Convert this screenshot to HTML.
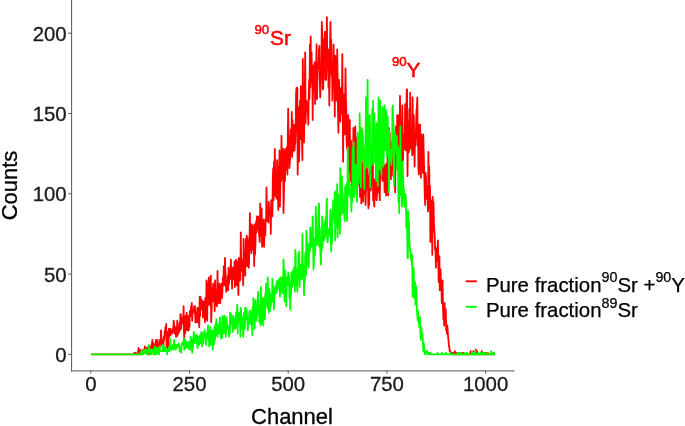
<!DOCTYPE html>
<html><head><meta charset="utf-8"><title>Spectrum</title>
<style>
html,body{margin:0;padding:0;background:#fff;}
svg{display:block;}
text{font-family:"Liberation Sans",Arial,sans-serif;}
.tk{font-size:20.4px;fill:#1a1a1a;stroke:#1a1a1a;stroke-width:0.3px;}
.ti{font-size:22px;fill:#000;stroke:#000;stroke-width:0.3px;}
.lg{font-size:20.4px;fill:#000;stroke:#000;stroke-width:0.25px;}
.sup{font-size:14.3px;}
.an{font-size:20.8px;fill:#f00;stroke:#f00;stroke-width:0.5px;}
.an .sup{font-size:13.3px;}
</style></head><body>
<svg width="685" height="426" viewBox="0 0 685 426">
<rect width="685" height="426" fill="#fff"/>
<polyline fill="none" stroke="#ff0000" stroke-width="1.8" stroke-linejoin="round" points="91.1,354.4 91.5,354.4 91.9,354.4 92.3,354.4 92.7,354.4 93.1,354.4 93.5,354.4 93.9,354.4 94.3,354.4 94.7,354.4 95.1,354.4 95.5,354.4 95.9,354.4 96.3,354.4 96.7,354.4 97.1,354.4 97.5,354.4 97.9,354.4 98.3,354.4 98.6,354.4 99.0,354.4 99.4,354.4 99.8,354.4 100.2,354.4 100.6,354.4 101.0,354.4 101.4,354.4 101.8,354.4 102.2,354.4 102.6,354.4 103.0,354.4 103.4,354.4 103.8,354.4 104.2,354.4 104.6,354.4 105.0,354.4 105.4,354.4 105.8,354.4 106.2,354.4 106.5,354.4 106.9,354.4 107.3,354.4 107.7,354.4 108.1,354.4 108.5,354.4 108.9,354.4 109.3,354.4 109.7,354.4 110.1,354.4 110.5,354.4 110.9,354.4 111.3,354.4 111.7,354.4 112.1,354.4 112.5,354.4 112.9,354.4 113.3,354.4 113.7,354.4 114.0,354.4 114.4,354.4 114.8,354.4 115.2,354.4 115.6,354.4 116.0,354.4 116.4,354.4 116.8,354.4 117.2,354.4 117.6,354.4 118.0,354.4 118.4,354.4 118.8,354.4 119.2,354.4 119.6,354.4 120.0,354.4 120.4,354.4 120.8,354.4 121.2,354.4 121.6,354.4 121.9,354.4 122.3,354.4 122.7,354.4 123.1,354.4 123.5,354.4 123.9,354.4 124.3,354.4 124.7,354.4 125.1,354.4 125.5,354.4 125.9,354.4 126.3,354.4 126.7,354.4 127.1,354.4 127.5,354.4 127.9,354.4 128.3,354.4 128.7,354.4 129.1,354.4 129.5,354.4 129.8,354.4 130.2,354.4 130.6,354.4 131.0,354.4 131.4,354.4 131.8,354.4 132.2,354.4 132.6,354.4 133.0,354.4 133.4,354.4 133.8,354.4 134.2,352.8 134.6,354.4 135.0,354.4 135.4,352.8 135.8,352.8 136.2,354.4 136.6,354.4 137.0,354.4 137.3,354.4 137.7,354.4 138.1,352.8 138.5,348.0 138.9,354.4 139.3,352.8 139.7,354.4 140.1,352.8 140.5,349.6 140.9,352.8 141.3,354.4 141.7,352.8 142.1,352.8 142.5,352.8 142.9,351.2 143.3,349.6 143.7,349.6 144.1,352.8 144.5,351.2 144.9,346.4 145.2,351.2 145.6,351.2 146.0,349.6 146.4,349.6 146.8,348.0 147.2,348.0 147.6,349.6 148.0,354.4 148.4,346.4 148.8,352.8 149.2,348.0 149.6,346.4 150.0,348.0 150.4,346.4 150.8,346.4 151.2,348.0 151.6,344.8 152.0,343.2 152.4,339.9 152.7,351.2 153.1,344.8 153.5,343.2 153.9,346.4 154.3,344.8 154.7,354.4 155.1,348.0 155.5,351.2 155.9,339.9 156.3,346.4 156.7,346.4 157.1,346.4 157.5,339.9 157.9,344.8 158.3,348.0 158.7,344.8 159.1,348.0 159.5,348.0 159.9,339.9 160.3,344.8 160.6,343.2 161.0,330.3 161.4,338.3 161.8,341.6 162.2,343.2 162.6,348.0 163.0,339.9 163.4,346.4 163.8,336.7 164.2,339.9 164.6,331.9 165.0,335.1 165.4,327.1 165.8,335.1 166.2,323.9 166.6,346.4 167.0,336.7 167.4,348.0 167.8,331.9 168.2,346.4 168.5,343.2 168.9,328.7 169.3,336.7 169.7,333.5 170.1,328.7 170.5,335.1 170.9,330.3 171.3,333.5 171.7,330.3 172.1,333.5 172.5,328.7 172.9,331.9 173.3,330.3 173.7,320.7 174.1,323.9 174.5,333.5 174.9,328.7 175.3,327.1 175.7,327.1 176.0,336.7 176.4,335.1 176.8,336.7 177.2,320.7 177.6,335.1 178.0,331.9 178.4,333.5 178.8,331.9 179.2,325.5 179.6,322.3 180.0,330.3 180.4,314.2 180.8,314.2 181.2,328.7 181.6,317.5 182.0,319.1 182.4,319.1 182.8,320.7 183.2,323.9 183.6,306.2 183.9,330.3 184.3,338.3 184.7,315.9 185.1,333.5 185.5,328.7 185.9,319.1 186.3,317.5 186.7,312.6 187.1,330.3 187.5,323.9 187.9,330.3 188.3,315.9 188.7,330.3 189.1,323.9 189.5,327.1 189.9,311.0 190.3,314.2 190.7,315.9 191.1,306.2 191.4,309.4 191.8,303.0 192.2,320.7 192.6,311.0 193.0,312.6 193.4,309.4 193.8,311.0 194.2,306.2 194.6,312.6 195.0,306.2 195.4,322.3 195.8,320.7 196.2,322.3 196.6,312.6 197.0,314.2 197.4,307.8 197.8,322.3 198.2,309.4 198.6,307.8 199.0,319.1 199.3,327.1 199.7,296.6 200.1,315.9 200.5,296.6 200.9,309.4 201.3,306.2 201.7,299.8 202.1,301.4 202.5,301.4 202.9,317.5 203.3,312.6 203.7,303.0 204.1,301.4 204.5,304.6 204.9,322.3 205.3,298.2 205.7,319.1 206.1,312.6 206.5,280.5 206.9,298.2 207.2,320.7 207.6,283.7 208.0,293.4 208.4,304.6 208.8,277.3 209.2,299.8 209.6,293.4 210.0,303.0 210.4,306.2 210.8,275.7 211.2,322.3 211.6,311.0 212.0,293.4 212.4,296.6 212.8,288.6 213.2,283.7 213.6,301.4 214.0,298.2 214.4,288.6 214.7,311.0 215.1,280.5 215.5,298.2 215.9,290.2 216.3,296.6 216.7,306.2 217.1,304.6 217.5,270.9 217.9,295.0 218.3,295.0 218.7,303.0 219.1,285.3 219.5,283.7 219.9,293.4 220.3,303.0 220.7,293.4 221.1,298.2 221.5,283.7 221.9,298.2 222.3,293.4 222.6,285.3 223.0,277.3 223.4,282.1 223.8,266.1 224.2,285.3 224.6,282.1 225.0,258.0 225.4,270.9 225.8,280.5 226.2,291.8 226.6,286.9 227.0,286.9 227.4,285.3 227.8,275.7 228.2,290.2 228.6,267.7 229.0,283.7 229.4,274.1 229.8,278.9 230.1,269.3 230.5,277.3 230.9,259.6 231.3,278.9 231.7,275.7 232.1,288.6 232.5,267.7 232.9,267.7 233.3,278.9 233.7,278.9 234.1,278.9 234.5,261.3 234.9,286.9 235.3,267.7 235.7,269.3 236.1,259.6 236.5,285.3 236.9,261.3 237.3,277.3 237.7,274.1 238.0,280.5 238.4,295.0 238.8,258.0 239.2,264.5 239.6,264.5 240.0,280.5 240.4,278.9 240.8,232.3 241.2,270.9 241.6,259.6 242.0,264.5 242.4,270.9 242.8,270.9 243.2,285.3 243.6,238.8 244.0,266.1 244.4,251.6 244.8,253.2 245.2,275.7 245.6,256.4 245.9,238.8 246.3,262.9 246.7,235.6 247.1,266.1 247.5,237.2 247.9,246.8 248.3,242.0 248.7,267.7 249.1,259.6 249.5,245.2 249.9,213.1 250.3,242.0 250.7,250.0 251.1,240.4 251.5,253.2 251.9,224.3 252.3,242.0 252.7,225.9 253.1,227.5 253.4,250.0 253.8,242.0 254.2,266.1 254.6,224.3 255.0,254.8 255.4,245.2 255.8,227.5 256.2,221.1 256.6,232.3 257.0,216.3 257.4,219.5 257.8,229.1 258.2,216.3 258.6,224.3 259.0,233.9 259.4,237.2 259.8,242.0 260.2,203.4 260.6,235.6 261.0,214.7 261.3,221.1 261.7,208.3 262.1,246.8 262.5,242.0 262.9,225.9 263.3,229.1 263.7,219.5 264.1,246.8 264.5,224.3 264.9,229.1 265.3,235.6 265.7,219.5 266.1,221.1 266.5,187.4 266.9,213.1 267.3,214.7 267.7,221.1 268.1,217.9 268.5,222.7 268.8,201.8 269.2,209.9 269.6,213.1 270.0,213.1 270.4,211.5 270.8,233.9 271.2,200.2 271.6,201.8 272.0,200.2 272.4,216.3 272.8,179.3 273.2,168.1 273.6,200.2 274.0,161.7 274.4,195.4 274.8,148.8 275.2,176.1 275.6,192.2 276.0,197.0 276.4,190.6 276.7,198.6 277.1,160.1 277.5,174.5 277.9,190.6 278.3,209.9 278.7,166.5 279.1,174.5 279.5,150.4 279.9,206.6 280.3,187.4 280.7,169.7 281.1,181.0 281.5,136.0 281.9,179.3 282.3,179.3 282.7,176.1 283.1,148.8 283.5,213.1 283.9,195.4 284.3,172.9 284.6,150.4 285.0,181.0 285.4,148.8 285.8,152.0 286.2,169.7 286.6,156.9 287.0,147.2 287.4,174.5 287.8,136.0 288.2,108.7 288.6,160.1 289.0,136.0 289.4,168.1 289.8,163.3 290.2,155.3 290.6,129.6 291.0,136.0 291.4,148.8 291.8,111.9 292.1,156.9 292.5,119.9 292.9,152.0 293.3,148.8 293.7,129.6 294.1,124.7 294.5,150.4 294.9,144.0 295.3,144.0 295.7,129.6 296.1,92.6 296.5,87.8 296.9,115.1 297.3,87.8 297.7,174.5 298.1,132.8 298.5,107.1 298.9,161.7 299.3,152.0 299.7,123.1 300.0,100.7 300.4,139.2 300.8,86.2 301.2,108.7 301.6,108.7 302.0,140.8 302.4,160.1 302.8,58.9 303.2,105.5 303.6,107.1 304.0,142.4 304.4,118.3 304.8,91.0 305.2,52.5 305.6,123.1 306.0,105.5 306.4,100.7 306.8,111.9 307.2,105.5 307.6,102.3 307.9,111.9 308.3,124.7 308.7,97.4 309.1,79.8 309.5,99.0 309.9,44.4 310.3,87.8 310.7,36.4 311.1,83.0 311.5,52.5 311.9,71.7 312.3,68.5 312.7,119.9 313.1,65.3 313.5,78.2 313.9,91.0 314.3,81.4 314.7,62.1 315.1,103.9 315.4,89.4 315.8,76.6 316.2,63.7 316.6,44.4 317.0,99.0 317.4,81.4 317.8,63.7 318.2,66.9 318.6,68.5 319.0,49.3 319.4,46.0 319.8,78.2 320.2,97.4 320.6,89.4 321.0,66.9 321.4,75.0 321.8,22.0 322.2,33.2 322.6,78.2 323.0,89.4 323.3,86.2 323.7,39.6 324.1,60.5 324.5,41.2 324.9,31.6 325.3,79.8 325.7,50.9 326.1,79.8 326.5,66.9 326.9,17.1 327.3,66.9 327.7,63.7 328.1,49.3 328.5,87.8 328.9,55.7 329.3,105.5 329.7,76.6 330.1,38.0 330.5,22.0 330.8,54.1 331.2,39.6 331.6,75.0 332.0,65.3 332.4,100.7 332.8,84.6 333.2,66.9 333.6,44.4 334.0,71.7 334.4,73.3 334.8,116.7 335.2,55.7 335.6,66.9 336.0,79.8 336.4,100.7 336.8,99.0 337.2,49.3 337.6,75.0 338.0,108.7 338.4,132.8 338.7,83.0 339.1,79.8 339.5,95.8 339.9,94.2 340.3,121.5 340.7,107.1 341.1,87.8 341.5,100.7 341.9,113.5 342.3,54.1 342.7,99.0 343.1,161.7 343.5,94.2 343.9,113.5 344.3,134.4 344.7,134.4 345.1,102.3 345.5,68.5 345.9,97.4 346.3,110.3 346.6,139.2 347.0,148.8 347.4,119.9 347.8,139.2 348.2,115.1 348.6,155.3 349.0,160.1 349.4,171.3 349.8,119.9 350.2,181.0 350.6,142.4 351.0,140.8 351.4,150.4 351.8,185.8 352.2,169.7 352.6,193.8 353.0,168.1 353.4,128.0 353.8,195.4 354.1,129.6 354.5,193.8 354.9,160.1 355.3,126.3 355.7,163.3 356.1,142.4 356.5,137.6 356.9,152.0 357.3,169.7 357.7,185.8 358.1,152.0 358.5,181.0 358.9,182.6 359.3,163.3 359.7,182.6 360.1,197.0 360.5,174.5 360.9,160.1 361.3,203.4 361.7,156.9 362.0,181.0 362.4,163.3 362.8,179.3 363.2,201.8 363.6,182.6 364.0,193.8 364.4,185.8 364.8,192.2 365.2,169.7 365.6,205.0 366.0,189.0 366.4,184.2 366.8,160.1 367.2,169.7 367.6,187.4 368.0,187.4 368.4,208.3 368.8,176.1 369.2,205.0 369.5,168.1 369.9,190.6 370.3,181.0 370.7,190.6 371.1,185.8 371.5,164.9 371.9,172.9 372.3,176.1 372.7,140.8 373.1,200.2 373.5,185.8 373.9,200.2 374.3,206.6 374.7,179.3 375.1,195.4 375.5,198.6 375.9,197.0 376.3,152.0 376.7,200.2 377.1,189.0 377.4,189.0 377.8,168.1 378.2,192.2 378.6,182.6 379.0,156.9 379.4,190.6 379.8,200.2 380.2,164.9 380.6,152.0 381.0,164.9 381.4,153.6 381.8,155.3 382.2,177.7 382.6,181.0 383.0,164.9 383.4,169.7 383.8,164.9 384.2,171.3 384.6,192.2 385.0,192.2 385.3,177.7 385.7,164.9 386.1,195.4 386.5,163.3 386.9,172.9 387.3,185.8 387.7,145.6 388.1,195.4 388.5,155.3 388.9,128.0 389.3,158.5 389.7,132.8 390.1,161.7 390.5,160.1 390.9,179.3 391.3,166.5 391.7,142.4 392.1,169.7 392.5,140.8 392.8,153.6 393.2,176.1 393.6,136.0 394.0,150.4 394.4,172.9 394.8,177.7 395.2,192.2 395.6,148.8 396.0,126.3 396.4,126.3 396.8,161.7 397.2,115.1 397.6,169.7 398.0,169.7 398.4,168.1 398.8,115.1 399.2,129.6 399.6,158.5 400.0,95.8 400.4,142.4 400.7,148.8 401.1,184.2 401.5,140.8 401.9,136.0 402.3,105.5 402.7,134.4 403.1,160.1 403.5,134.4 403.9,148.8 404.3,137.6 404.7,148.8 405.1,105.5 405.5,103.9 405.9,150.4 406.3,134.4 406.7,89.4 407.1,89.4 407.5,176.1 407.9,142.4 408.2,121.5 408.6,124.7 409.0,152.0 409.4,108.7 409.8,148.8 410.2,92.6 410.6,131.2 411.0,142.4 411.4,148.8 411.8,142.4 412.2,155.3 412.6,97.4 413.0,140.8 413.4,153.6 413.8,115.1 414.2,140.8 414.6,166.5 415.0,134.4 415.4,145.6 415.8,137.6 416.1,126.3 416.5,110.3 416.9,107.1 417.3,97.4 417.7,145.6 418.1,140.8 418.5,169.7 418.9,174.5 419.3,124.7 419.7,166.5 420.1,124.7 420.5,148.8 420.9,177.7 421.3,134.4 421.7,144.0 422.1,168.1 422.5,144.0 422.9,172.9 423.3,134.4 423.7,153.6 424.0,163.3 424.4,179.3 424.8,197.0 425.2,205.0 425.6,172.9 426.0,177.7 426.4,193.8 426.8,198.6 427.2,185.8 427.6,192.2 428.0,211.5 428.4,152.0 428.8,208.3 429.2,166.5 429.6,201.8 430.0,185.8 430.4,242.0 430.8,235.6 431.2,205.0 431.5,214.7 431.9,200.2 432.3,254.8 432.7,197.0 433.1,214.7 433.5,201.8 433.9,222.7 434.3,230.7 434.7,233.9 435.1,250.0 435.5,246.8 435.9,267.7 436.3,248.4 436.7,261.3 437.1,248.4 437.5,259.6 437.9,240.4 438.3,259.6 438.7,282.1 439.1,282.1 439.4,256.4 439.8,290.2 440.2,270.9 440.6,269.3 441.0,285.3 441.4,282.1 441.8,303.0 442.2,296.6 442.6,280.5 443.0,307.8 443.4,319.1 443.8,314.2 444.2,325.5 444.6,303.0 445.0,315.9 445.4,319.1 445.8,309.4 446.2,330.3 446.6,325.5 446.9,333.5 447.3,325.5 447.7,330.3 448.1,336.7 448.5,339.9 448.9,346.4 449.3,346.4 449.7,351.2 450.1,351.2 450.5,351.2 450.9,354.4 451.3,352.8 451.7,352.8 452.1,354.4 452.5,354.4 452.9,354.4 453.3,352.8 453.7,354.4 454.1,354.4 454.5,352.8 454.8,351.2 455.2,354.4 455.6,354.4 456.0,354.4 456.4,354.4 456.8,352.8 457.2,354.4 457.6,354.4 458.0,354.4 458.4,354.4 458.8,354.4 459.2,352.8 459.6,352.8 460.0,354.4 460.4,354.4 460.8,354.4 461.2,354.4 461.6,354.4 462.0,354.4 462.4,352.8 462.7,352.8 463.1,352.8 463.5,354.4 463.9,354.4 464.3,354.4 464.7,354.4 465.1,354.4 465.5,354.4 465.9,354.4 466.3,354.4 466.7,354.4 467.1,352.8 467.5,354.4 467.9,354.4 468.3,354.4 468.7,354.4 469.1,354.4 469.5,354.4 469.9,354.4 470.2,354.4 470.6,351.2 471.0,354.4 471.4,354.4 471.8,354.4 472.2,354.4 472.6,354.4 473.0,354.4 473.4,351.2 473.8,354.4 474.2,354.4 474.6,354.4 475.0,354.4 475.4,354.4 475.8,349.6 476.2,354.4 476.6,354.4 477.0,351.2 477.4,354.4 477.8,354.4 478.1,354.4 478.5,354.4 478.9,354.4 479.3,354.4 479.7,354.4 480.1,354.4 480.5,354.4 480.9,354.4 481.3,352.8 481.7,351.2 482.1,354.4 482.5,354.4 482.9,354.4 483.3,354.4 483.7,354.4 484.1,352.8 484.5,354.4 484.9,354.4 485.3,352.8 485.6,354.4 486.0,354.4 486.4,354.4 486.8,352.8 487.2,354.4 487.6,354.4 488.0,352.8 488.4,354.4 488.8,354.4 489.2,354.4 489.6,354.4 490.0,354.4 490.4,354.4 490.8,354.4 491.2,354.4 491.6,354.4 492.0,354.4 492.4,354.4 492.8,354.4 493.2,354.4 493.5,352.8 493.9,354.4 494.3,354.4 494.7,354.4 495.1,354.4"/>
<polyline fill="none" stroke="#00ff00" stroke-width="1.8" stroke-linejoin="round" points="91.1,354.4 91.5,354.4 91.9,354.4 92.3,354.4 92.7,354.4 93.1,354.4 93.5,354.4 93.9,354.4 94.3,354.4 94.7,354.4 95.1,354.4 95.5,354.4 95.9,354.4 96.3,354.4 96.7,354.4 97.1,354.4 97.5,354.4 97.9,354.4 98.3,354.4 98.6,354.4 99.0,354.4 99.4,354.4 99.8,354.4 100.2,354.4 100.6,354.4 101.0,354.4 101.4,354.4 101.8,354.4 102.2,354.4 102.6,354.4 103.0,354.4 103.4,354.4 103.8,354.4 104.2,354.4 104.6,354.4 105.0,354.4 105.4,354.4 105.8,354.4 106.2,354.4 106.5,354.4 106.9,354.4 107.3,354.4 107.7,354.4 108.1,354.4 108.5,354.4 108.9,354.4 109.3,354.4 109.7,354.4 110.1,354.4 110.5,354.4 110.9,354.4 111.3,354.4 111.7,354.4 112.1,354.4 112.5,354.4 112.9,354.4 113.3,354.4 113.7,354.4 114.0,354.4 114.4,354.4 114.8,354.4 115.2,354.4 115.6,354.4 116.0,354.4 116.4,354.4 116.8,354.4 117.2,354.4 117.6,354.4 118.0,354.4 118.4,354.4 118.8,354.4 119.2,354.4 119.6,354.4 120.0,354.4 120.4,354.4 120.8,354.4 121.2,354.4 121.6,354.4 121.9,354.4 122.3,354.4 122.7,354.4 123.1,354.4 123.5,354.4 123.9,354.4 124.3,354.4 124.7,354.4 125.1,354.4 125.5,354.4 125.9,354.4 126.3,354.4 126.7,354.4 127.1,354.4 127.5,354.4 127.9,354.4 128.3,354.4 128.7,354.4 129.1,354.4 129.5,354.4 129.8,354.4 130.2,354.4 130.6,354.4 131.0,354.4 131.4,354.4 131.8,354.4 132.2,354.4 132.6,354.4 133.0,354.4 133.4,354.4 133.8,354.4 134.2,354.4 134.6,354.4 135.0,354.4 135.4,354.4 135.8,354.4 136.2,354.4 136.6,354.4 137.0,354.4 137.3,354.4 137.7,354.4 138.1,354.4 138.5,354.4 138.9,354.4 139.3,354.4 139.7,354.4 140.1,354.4 140.5,352.8 140.9,354.4 141.3,351.2 141.7,352.8 142.1,354.4 142.5,351.2 142.9,354.4 143.3,354.4 143.7,352.8 144.1,349.6 144.5,351.2 144.9,352.8 145.2,352.8 145.6,352.8 146.0,349.6 146.4,352.8 146.8,354.4 147.2,354.4 147.6,349.6 148.0,351.2 148.4,351.2 148.8,344.8 149.2,349.6 149.6,354.4 150.0,354.4 150.4,349.6 150.8,351.2 151.2,354.4 151.6,349.6 152.0,351.2 152.4,352.8 152.7,349.6 153.1,349.6 153.5,354.4 153.9,351.2 154.3,354.4 154.7,348.0 155.1,346.4 155.5,348.0 155.9,348.0 156.3,348.0 156.7,354.4 157.1,348.0 157.5,351.2 157.9,349.6 158.3,352.8 158.7,348.0 159.1,354.4 159.5,346.4 159.9,349.6 160.3,351.2 160.6,351.2 161.0,351.2 161.4,351.2 161.8,351.2 162.2,351.2 162.6,351.2 163.0,344.8 163.4,348.0 163.8,351.2 164.2,351.2 164.6,351.2 165.0,351.2 165.4,346.4 165.8,351.2 166.2,349.6 166.6,351.2 167.0,354.4 167.4,351.2 167.8,351.2 168.2,349.6 168.5,351.2 168.9,348.0 169.3,346.4 169.7,351.2 170.1,338.3 170.5,349.6 170.9,348.0 171.3,348.0 171.7,349.6 172.1,346.4 172.5,346.4 172.9,344.8 173.3,344.8 173.7,349.6 174.1,339.9 174.5,348.0 174.9,348.0 175.3,348.0 175.7,349.6 176.0,344.8 176.4,346.4 176.8,348.0 177.2,344.8 177.6,346.4 178.0,346.4 178.4,346.4 178.8,343.2 179.2,344.8 179.6,351.2 180.0,349.6 180.4,348.0 180.8,348.0 181.2,352.8 181.6,346.4 182.0,343.2 182.4,344.8 182.8,344.8 183.2,341.6 183.6,341.6 183.9,338.3 184.3,349.6 184.7,344.8 185.1,339.9 185.5,348.0 185.9,348.0 186.3,343.2 186.7,341.6 187.1,343.2 187.5,346.4 187.9,348.0 188.3,344.8 188.7,348.0 189.1,341.6 189.5,349.6 189.9,341.6 190.3,348.0 190.7,336.7 191.1,348.0 191.4,349.6 191.8,348.0 192.2,352.8 192.6,338.3 193.0,348.0 193.4,339.9 193.8,331.9 194.2,343.2 194.6,336.7 195.0,339.9 195.4,335.1 195.8,336.7 196.2,335.1 196.6,343.2 197.0,335.1 197.4,348.0 197.8,346.4 198.2,336.7 198.6,341.6 199.0,343.2 199.3,344.8 199.7,339.9 200.1,335.1 200.5,338.3 200.9,343.2 201.3,331.9 201.7,339.9 202.1,346.4 202.5,333.5 202.9,339.9 203.3,343.2 203.7,336.7 204.1,331.9 204.5,330.3 204.9,335.1 205.3,338.3 205.7,335.1 206.1,344.8 206.5,339.9 206.9,333.5 207.2,335.1 207.6,330.3 208.0,325.5 208.4,338.3 208.8,335.1 209.2,346.4 209.6,330.3 210.0,336.7 210.4,327.1 210.8,344.8 211.2,336.7 211.6,336.7 212.0,333.5 212.4,330.3 212.8,349.6 213.2,336.7 213.6,339.9 214.0,344.8 214.4,327.1 214.7,328.7 215.1,339.9 215.5,323.9 215.9,331.9 216.3,319.1 216.7,335.1 217.1,325.5 217.5,336.7 217.9,327.1 218.3,328.7 218.7,323.9 219.1,331.9 219.5,333.5 219.9,317.5 220.3,322.3 220.7,338.3 221.1,330.3 221.5,333.5 221.9,338.3 222.3,328.7 222.6,315.9 223.0,327.1 223.4,330.3 223.8,333.5 224.2,323.9 224.6,315.9 225.0,328.7 225.4,330.3 225.8,336.7 226.2,328.7 226.6,317.5 227.0,323.9 227.4,325.5 227.8,325.5 228.2,330.3 228.6,327.1 229.0,336.7 229.4,330.3 229.8,333.5 230.1,312.6 230.5,317.5 230.9,323.9 231.3,314.2 231.7,323.9 232.1,317.5 232.5,325.5 232.9,331.9 233.3,315.9 233.7,320.7 234.1,328.7 234.5,322.3 234.9,319.1 235.3,328.7 235.7,319.1 236.1,312.6 236.5,325.5 236.9,311.0 237.3,304.6 237.7,333.5 238.0,314.2 238.4,312.6 238.8,317.5 239.2,322.3 239.6,312.6 240.0,319.1 240.4,336.7 240.8,307.8 241.2,312.6 241.6,322.3 242.0,328.7 242.4,320.7 242.8,317.5 243.2,336.7 243.6,328.7 244.0,312.6 244.4,323.9 244.8,328.7 245.2,307.8 245.6,319.1 245.9,307.8 246.3,314.2 246.7,309.4 247.1,317.5 247.5,323.9 247.9,330.3 248.3,320.7 248.7,323.9 249.1,314.2 249.5,311.0 249.9,317.5 250.3,323.9 250.7,311.0 251.1,323.9 251.5,314.2 251.9,320.7 252.3,335.1 252.7,306.2 253.1,319.1 253.4,298.2 253.8,311.0 254.2,315.9 254.6,328.7 255.0,314.2 255.4,299.8 255.8,306.2 256.2,304.6 256.6,320.7 257.0,311.0 257.4,306.2 257.8,296.6 258.2,291.8 258.6,314.2 259.0,304.6 259.4,322.3 259.8,309.4 260.2,307.8 260.6,325.5 261.0,286.9 261.3,323.9 261.7,306.2 262.1,298.2 262.5,319.1 262.9,299.8 263.3,325.5 263.7,298.2 264.1,306.2 264.5,304.6 264.9,319.1 265.3,293.4 265.7,298.2 266.1,283.7 266.5,301.4 266.9,303.0 267.3,307.8 267.7,277.3 268.1,296.6 268.5,296.6 268.8,312.6 269.2,288.6 269.6,291.8 270.0,311.0 270.4,301.4 270.8,306.2 271.2,299.8 271.6,293.4 272.0,301.4 272.4,278.9 272.8,291.8 273.2,301.4 273.6,303.0 274.0,309.4 274.4,293.4 274.8,286.9 275.2,291.8 275.6,286.9 276.0,293.4 276.4,283.7 276.7,291.8 277.1,280.5 277.5,282.1 277.9,285.3 278.3,288.6 278.7,285.3 279.1,278.9 279.5,282.1 279.9,296.6 280.3,288.6 280.7,277.3 281.1,278.9 281.5,290.2 281.9,277.3 282.3,293.4 282.7,293.4 283.1,293.4 283.5,259.6 283.9,267.7 284.3,293.4 284.6,301.4 285.0,277.3 285.4,270.9 285.8,291.8 286.2,306.2 286.6,285.3 287.0,277.3 287.4,285.3 287.8,283.7 288.2,272.5 288.6,283.7 289.0,275.7 289.4,298.2 289.8,290.2 290.2,309.4 290.6,282.1 291.0,295.0 291.4,272.5 291.8,285.3 292.1,286.9 292.5,272.5 292.9,270.9 293.3,280.5 293.7,267.7 294.1,285.3 294.5,270.9 294.9,291.8 295.3,250.0 295.7,254.8 296.1,285.3 296.5,277.3 296.9,269.3 297.3,291.8 297.7,278.9 298.1,278.9 298.5,253.2 298.9,278.9 299.3,251.6 299.7,286.9 300.0,272.5 300.4,278.9 300.8,278.9 301.2,264.5 301.6,272.5 302.0,278.9 302.4,233.9 302.8,275.7 303.2,264.5 303.6,267.7 304.0,295.0 304.4,277.3 304.8,282.1 305.2,253.2 305.6,272.5 306.0,275.7 306.4,230.7 306.8,246.8 307.2,243.6 307.6,264.5 307.9,243.6 308.3,254.8 308.7,267.7 309.1,248.4 309.5,245.2 309.9,251.6 310.3,227.5 310.7,246.8 311.1,232.3 311.5,246.8 311.9,238.8 312.3,237.2 312.7,216.3 313.1,245.2 313.5,269.3 313.9,262.9 314.3,238.8 314.7,253.2 315.1,254.8 315.4,245.2 315.8,206.6 316.2,229.1 316.6,235.6 317.0,237.2 317.4,245.2 317.8,232.3 318.2,227.5 318.6,208.3 319.0,203.4 319.4,246.8 319.8,227.5 320.2,246.8 320.6,256.4 321.0,264.5 321.4,240.4 321.8,250.0 322.2,216.3 322.6,246.8 323.0,230.7 323.3,238.8 323.7,230.7 324.1,240.4 324.5,222.7 324.9,221.1 325.3,237.2 325.7,217.9 326.1,229.1 326.5,203.4 326.9,198.6 327.3,242.0 327.7,242.0 328.1,230.7 328.5,237.2 328.9,229.1 329.3,229.1 329.7,233.9 330.1,217.9 330.5,209.9 330.8,235.6 331.2,251.6 331.6,219.5 332.0,243.6 332.4,214.7 332.8,211.5 333.2,200.2 333.6,216.3 334.0,205.0 334.4,222.7 334.8,192.2 335.2,240.4 335.6,200.2 336.0,227.5 336.4,190.6 336.8,198.6 337.2,184.2 337.6,237.2 338.0,193.8 338.4,201.8 338.7,227.5 339.1,205.0 339.5,198.6 339.9,233.9 340.3,168.1 340.7,203.4 341.1,187.4 341.5,214.7 341.9,176.1 342.3,208.3 342.7,192.2 343.1,200.2 343.5,213.1 343.9,203.4 344.3,216.3 344.7,221.1 345.1,187.4 345.5,185.8 345.9,205.0 346.3,184.2 346.6,190.6 347.0,221.1 347.4,201.8 347.8,147.2 348.2,195.4 348.6,181.0 349.0,174.5 349.4,184.2 349.8,184.2 350.2,197.0 350.6,197.0 351.0,189.0 351.4,211.5 351.8,189.0 352.2,201.8 352.6,147.2 353.0,163.3 353.4,190.6 353.8,142.4 354.1,197.0 354.5,177.7 354.9,166.5 355.3,164.9 355.7,166.5 356.1,171.3 356.5,176.1 356.9,201.8 357.3,176.1 357.7,132.8 358.1,174.5 358.5,184.2 358.9,176.1 359.3,168.1 359.7,113.5 360.1,161.7 360.5,134.4 360.9,187.4 361.3,150.4 361.7,128.0 362.0,160.1 362.4,129.6 362.8,136.0 363.2,148.8 363.6,160.1 364.0,176.1 364.4,189.0 364.8,156.9 365.2,147.2 365.6,134.4 366.0,97.4 366.4,128.0 366.8,166.5 367.2,131.2 367.6,79.8 368.0,168.1 368.4,145.6 368.8,144.0 369.2,152.0 369.5,115.1 369.9,115.1 370.3,187.4 370.7,160.1 371.1,144.0 371.5,160.1 371.9,164.9 372.3,108.7 372.7,160.1 373.1,100.7 373.5,163.3 373.9,115.1 374.3,113.5 374.7,137.6 375.1,128.0 375.5,163.3 375.9,142.4 376.3,181.0 376.7,123.1 377.1,148.8 377.4,163.3 377.8,185.8 378.2,144.0 378.6,97.4 379.0,111.9 379.4,169.7 379.8,160.1 380.2,100.7 380.6,128.0 381.0,153.6 381.4,174.5 381.8,132.8 382.2,131.2 382.6,107.1 383.0,136.0 383.4,166.5 383.8,150.4 384.2,136.0 384.6,105.5 385.0,150.4 385.3,115.1 385.7,150.4 386.1,110.3 386.5,129.6 386.9,156.9 387.3,144.0 387.7,116.7 388.1,155.3 388.5,129.6 388.9,192.2 389.3,131.2 389.7,150.4 390.1,160.1 390.5,156.9 390.9,150.4 391.3,164.9 391.7,156.9 392.1,145.6 392.5,107.1 392.8,105.5 393.2,121.5 393.6,126.3 394.0,185.8 394.4,148.8 394.8,131.2 395.2,137.6 395.6,148.8 396.0,145.6 396.4,153.6 396.8,136.0 397.2,169.7 397.6,145.6 398.0,148.8 398.4,201.8 398.8,148.8 399.2,213.1 399.6,163.3 400.0,195.4 400.4,126.3 400.7,187.4 401.1,179.3 401.5,185.8 401.9,206.6 402.3,201.8 402.7,161.7 403.1,177.7 403.5,190.6 403.9,189.0 404.3,198.6 404.7,206.6 405.1,203.4 405.5,193.8 405.9,198.6 406.3,227.5 406.7,209.9 407.1,224.3 407.5,258.0 407.9,258.0 408.2,211.5 408.6,222.7 409.0,221.1 409.4,242.0 409.8,246.8 410.2,251.6 410.6,251.6 411.0,258.0 411.4,259.6 411.8,264.5 412.2,254.8 412.6,296.6 413.0,277.3 413.4,267.7 413.8,270.9 414.2,298.2 414.6,291.8 415.0,282.1 415.4,304.6 415.8,285.3 416.1,286.9 416.5,293.4 416.9,311.0 417.3,314.2 417.7,320.7 418.1,311.0 418.5,320.7 418.9,320.7 419.3,327.1 419.7,325.5 420.1,317.5 420.5,336.7 420.9,339.9 421.3,327.1 421.7,336.7 422.1,336.7 422.5,333.5 422.9,341.6 423.3,351.2 423.7,343.2 424.0,344.8 424.4,351.2 424.8,354.4 425.2,352.8 425.6,352.8 426.0,351.2 426.4,352.8 426.8,352.8 427.2,351.2 427.6,354.4 428.0,354.4 428.4,354.4 428.8,352.8 429.2,352.8 429.6,354.4 430.0,354.4 430.4,352.8 430.8,354.4 431.2,354.4 431.5,354.4 431.9,354.4 432.3,354.4 432.7,354.4 433.1,354.4 433.5,354.4 433.9,354.4 434.3,354.4 434.7,354.4 435.1,354.4 435.5,354.4 435.9,354.4 436.3,354.4 436.7,354.4 437.1,354.4 437.5,352.8 437.9,354.4 438.3,354.4 438.7,354.4 439.1,354.4 439.4,354.4 439.8,354.4 440.2,354.4 440.6,354.4 441.0,354.4 441.4,354.4 441.8,354.4 442.2,352.8 442.6,354.4 443.0,354.4 443.4,354.4 443.8,354.4 444.2,354.4 444.6,354.4 445.0,354.4 445.4,354.4 445.8,354.4 446.2,352.8 446.6,354.4 446.9,354.4 447.3,354.4 447.7,354.4 448.1,354.4 448.5,354.4 448.9,354.4 449.3,354.4 449.7,354.4 450.1,352.8 450.5,354.4 450.9,354.4 451.3,354.4 451.7,354.4 452.1,354.4 452.5,354.4 452.9,354.4 453.3,354.4 453.7,354.4 454.1,354.4 454.5,354.4 454.8,354.4 455.2,354.4 455.6,354.4 456.0,354.4 456.4,354.4 456.8,354.4 457.2,354.4 457.6,354.4 458.0,352.8 458.4,354.4 458.8,352.8 459.2,354.4 459.6,354.4 460.0,354.4 460.4,354.4 460.8,352.8 461.2,354.4 461.6,354.4 462.0,354.4 462.4,354.4 462.7,354.4 463.1,354.4 463.5,354.4 463.9,354.4 464.3,354.4 464.7,352.8 465.1,354.4 465.5,354.4 465.9,354.4 466.3,354.4 466.7,354.4 467.1,352.8 467.5,354.4 467.9,354.4 468.3,354.4 468.7,354.4 469.1,354.4 469.5,354.4 469.9,354.4 470.2,354.4 470.6,354.4 471.0,354.4 471.4,354.4 471.8,354.4 472.2,352.8 472.6,354.4 473.0,354.4 473.4,352.8 473.8,354.4 474.2,354.4 474.6,354.4 475.0,354.4 475.4,351.2 475.8,354.4 476.2,354.4 476.6,354.4 477.0,354.4 477.4,354.4 477.8,354.4 478.1,352.8 478.5,354.4 478.9,354.4 479.3,354.4 479.7,354.4 480.1,354.4 480.5,354.4 480.9,352.8 481.3,354.4 481.7,354.4 482.1,354.4 482.5,354.4 482.9,352.8 483.3,354.4 483.7,352.8 484.1,354.4 484.5,354.4 484.9,352.8 485.3,354.4 485.6,354.4 486.0,354.4 486.4,354.4 486.8,354.4 487.2,354.4 487.6,352.8 488.0,354.4 488.4,354.4 488.8,354.4 489.2,354.4 489.6,354.4 490.0,354.4 490.4,354.4 490.8,354.4 491.2,351.2 491.6,354.4 492.0,354.4 492.4,354.4 492.8,354.4 493.2,354.4 493.5,354.4 493.9,352.8 494.3,354.4 494.7,354.4 495.1,354.4"/>
<g stroke="#555555" stroke-width="1" fill="none">
<line x1="71.6" y1="0" x2="71.6" y2="371.5"/>
<line x1="71.1" y1="370.9" x2="514.5" y2="370.9"/>
<line x1="68.3" y1="354.4" x2="71.6" y2="354.4"/>
<line x1="68.3" y1="274.1" x2="71.6" y2="274.1"/>
<line x1="68.3" y1="193.8" x2="71.6" y2="193.8"/>
<line x1="68.3" y1="113.5" x2="71.6" y2="113.5"/>
<line x1="68.3" y1="33.2" x2="71.6" y2="33.2"/>
<line x1="90.8" y1="370.9" x2="90.8" y2="373.5"/>
<line x1="189.5" y1="370.9" x2="189.5" y2="373.5"/>
<line x1="288.2" y1="370.9" x2="288.2" y2="373.5"/>
<line x1="386.9" y1="370.9" x2="386.9" y2="373.5"/>
<line x1="485.6" y1="370.9" x2="485.6" y2="373.5"/>
</g>
<text class="tk" x="66.7" y="361.9" text-anchor="end">0</text>
<text class="tk" x="66.7" y="281.6" text-anchor="end">50</text>
<text class="tk" x="66.7" y="201.3" text-anchor="end">100</text>
<text class="tk" x="66.7" y="121.0" text-anchor="end">150</text>
<text class="tk" x="66.7" y="40.7" text-anchor="end">200</text>
<text class="tk" x="90.8" y="390.6" text-anchor="middle">0</text>
<text class="tk" x="189.5" y="390.6" text-anchor="middle">250</text>
<text class="tk" x="288.2" y="390.6" text-anchor="middle">500</text>
<text class="tk" x="386.9" y="390.6" text-anchor="middle">750</text>
<text class="tk" x="485.6" y="390.6" text-anchor="middle">1000</text>
<text class="ti" x="292" y="424" text-anchor="middle">Channel</text>
<text class="ti" transform="translate(17.4,185.5) rotate(-90)" text-anchor="middle">Counts</text>
<text class="an" x="254.4" y="45.1"><tspan class="sup" dy="-11.2">90</tspan><tspan dy="11.2" dx="0.9">Sr</tspan></text>
<text class="an" x="391.9" y="76.9"><tspan class="sup" dy="-10.6">90</tspan><tspan dy="10.6" dx="-0.3">Y</tspan></text>
<line x1="465.7" y1="281.3" x2="476.8" y2="281.3" stroke="#ff0000" stroke-width="1.9"/>
<line x1="465.7" y1="306.8" x2="476.8" y2="306.8" stroke="#00ff00" stroke-width="1.9"/>
<text class="lg" x="485.9" y="291.5">Pure fraction<tspan class="sup" dy="-9.3">90</tspan><tspan dy="9.7">Sr +</tspan><tspan class="sup" dy="-9.7">90</tspan><tspan dy="9.7">Y</tspan></text>
<text class="lg" x="485.9" y="317.3">Pure fraction<tspan class="sup" dy="-9.7">89</tspan><tspan dy="9.7">Sr</tspan></text>
</svg>
</body></html>
